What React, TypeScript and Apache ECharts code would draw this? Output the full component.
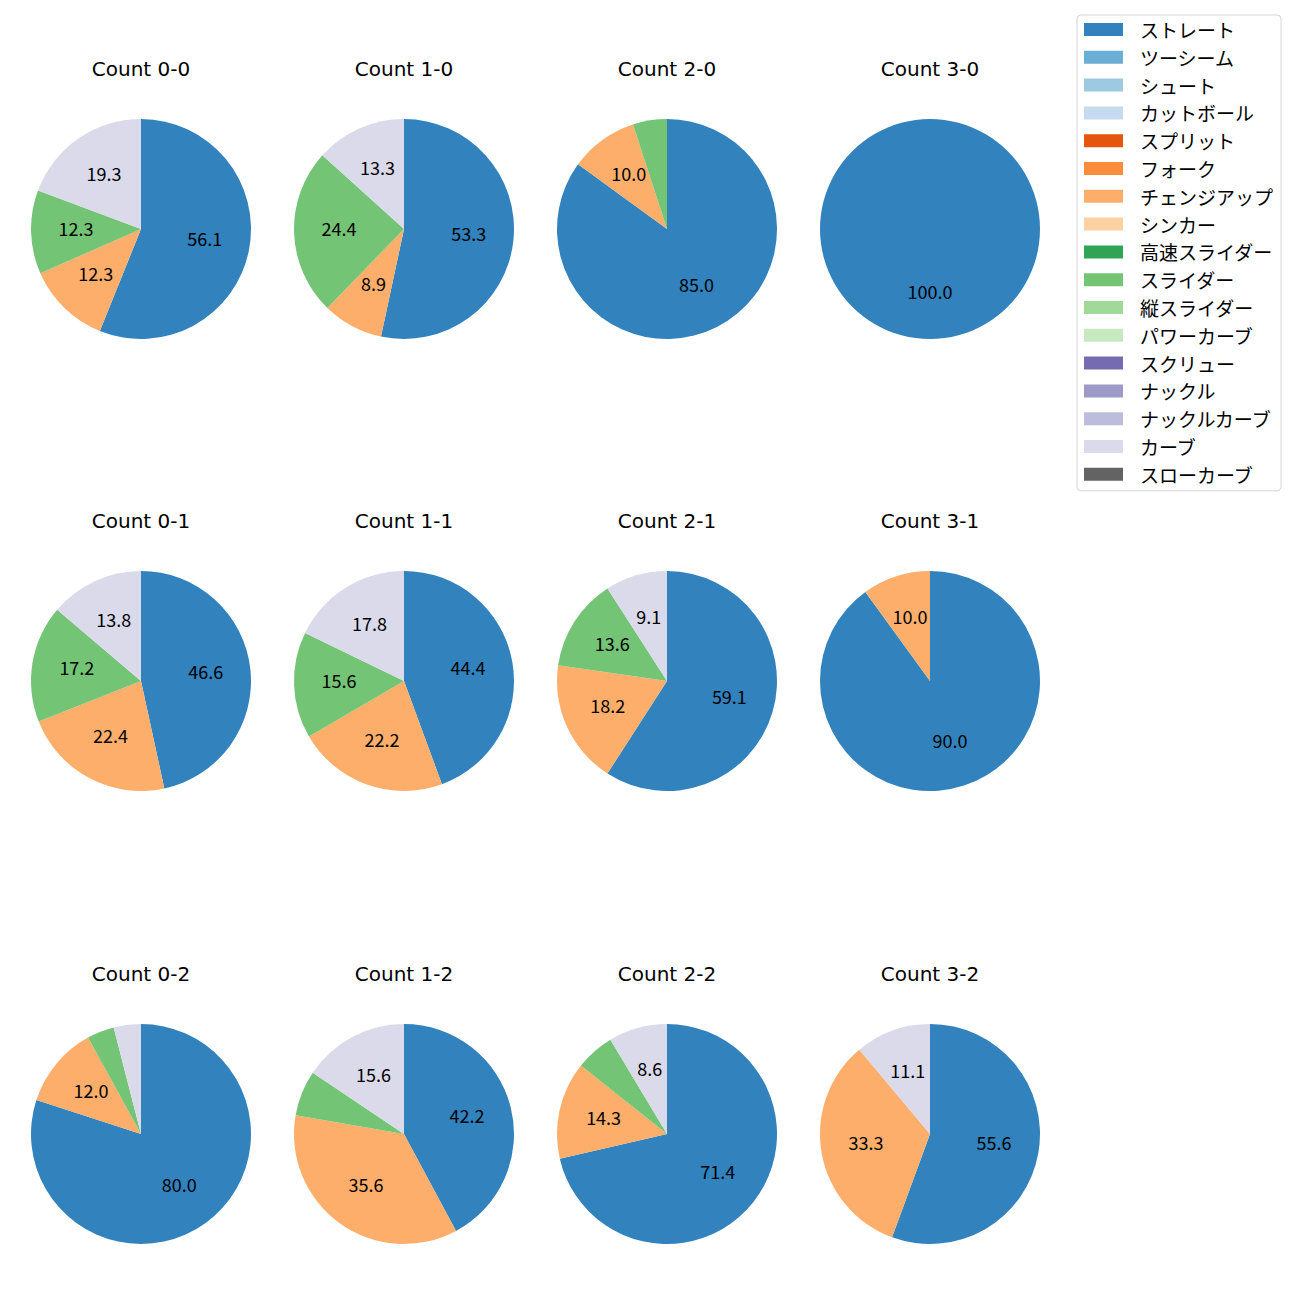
import React, { useEffect, useRef } from "react";
import * as echarts from "echarts";

const pitchTypes = [
  "ストレート", "ツーシーム", "シュート", "カットボール", "スプリット", "フォーク",
  "チェンジアップ", "シンカー", "高速スライダー", "スライダー", "縦スライダー",
  "パワーカーブ", "スクリュー", "ナックル", "ナックルカーブ", "カーブ", "スローカーブ",
];
const pitchColors = [
  "#3182bd", "#6baed6", "#9ecae1", "#c6dbef", "#e6550d", "#fd8d3c",
  "#fdae6b", "#fdd0a2", "#31a354", "#74c476", "#a1d99b", "#c7e9c0",
  "#756bb1", "#9e9ac8", "#bcbddc", "#dadaeb", "#636363",
];
const countLabels = ["0-0", "1-0", "2-0", "3-0", "0-1", "1-1", "2-1", "3-1", "0-2", "1-2", "2-2", "3-2"];
// percentages per count
const straight = [56.1, 53.3, 85.0, 100.0, 46.6, 44.4, 59.1, 90.0, 80.0, 42.2, 71.4, 55.6];
const changeup = [12.3, 8.9, 10.0, 0, 22.4, 22.2, 18.2, 10.0, 12.0, 35.6, 14.3, 33.3];
const slider = [12.3, 24.4, 5.0, 0, 17.2, 15.6, 13.6, 0, 4.0, 6.7, 5.7, 0];
const curve = [19.3, 13.3, 0, 0, 13.8, 17.8, 9.1, 0, 4.0, 15.6, 8.6, 11.1];

const FONT = "'Noto Sans CJK JP', 'Noto Sans', sans-serif";
const TITLE_FONT = "'DejaVu Sans', 'Noto Sans', sans-serif";

export default function App() {
  const ref = useRef<HTMLDivElement>(null);
  useEffect(() => {
    document.body.style.margin = "0";
    const chart = echarts.init(ref.current!, null, { renderer: "svg" });
    const colX = [141, 404, 667, 930];
    const rowY = [229, 681, 1134];
    const R = 110;

    const valuesFor = (i: number) => {
      const m: Record<string, number> = {
        "ストレート": straight[i],
        "チェンジアップ": changeup[i],
        "スライダー": slider[i],
        "カーブ": curve[i],
      };
      return pitchTypes.map((n) => m[n] ?? 0);
    };

    const titles: any[] = [];
    const pies: any[] = [];
    const overlays: any[] = [];
    countLabels.forEach((c, i) => {
      const cx = colX[i % 4];
      const cy = rowY[Math.floor(i / 4)];
      const vals = valuesFor(i);
      titles.push({
        text: "Count " + c,
        left: cx,
        top: cy - 170,
        textAlign: "center",
        padding: 0,
        textStyle: { fontFamily: TITLE_FONT, fontSize: 20, fontWeight: "normal", color: "#000" },
      });
      pies.push({
        type: "pie",
        name: "Count " + c,
        center: [cx, cy],
        radius: [0, R],
        startAngle: 90,
        clockwise: true,
        silent: true,
        label: { show: false },
        labelLine: { show: false },
        emphasis: { disabled: true },
        data: pitchTypes.map((n, k) => ({
          name: n,
          value: vals[k],
          itemStyle: { color: pitchColors[k] },
        })),
      });
      overlays.push({
        type: "pie",
        name: "label " + c,
        center: [cx, cy],
        radius: [0, 124],
        startAngle: 90,
        clockwise: true,
        silent: true,
        legendHoverLink: false,
        emphasis: { disabled: true },
        itemStyle: { color: "rgba(0,0,0,0)" },
        labelLine: { show: false },
        data: pitchTypes.map((n, k) => ({
          name: n,
          value: vals[k],
          itemStyle: { color: "rgba(0,0,0,0)" },
          label: {
            show: vals[k] >= 7,
            position: "inside",
            formatter: vals[k].toFixed(1),
            fontFamily: FONT,
            fontSize: 18,
            color: "#000",
            offset: [0, -3],
          },
        })),
      });
    });

    chart.setOption({
      animation: false,
      title: titles,
      legend: {
        data: pitchTypes,
        orient: "vertical",
        left: 1077,
        top: 15,
        padding: [5, 8, 7, 7],
        itemWidth: 39,
        itemHeight: 13,
        itemGap: 8.8,
        icon: "rect",
        borderColor: "#d5d5d5",
        borderWidth: 1,
        borderRadius: 4,
        selectedMode: false,
        textStyle: { fontFamily: FONT, fontSize: 19, color: "#000", padding: [0, 0, 0, 12] },
      },
      series: [...pies, ...overlays],
    });
    return () => chart.dispose();
  }, []);
  return <div ref={ref} style={{ width: 1300, height: 1300 }} />;
}
